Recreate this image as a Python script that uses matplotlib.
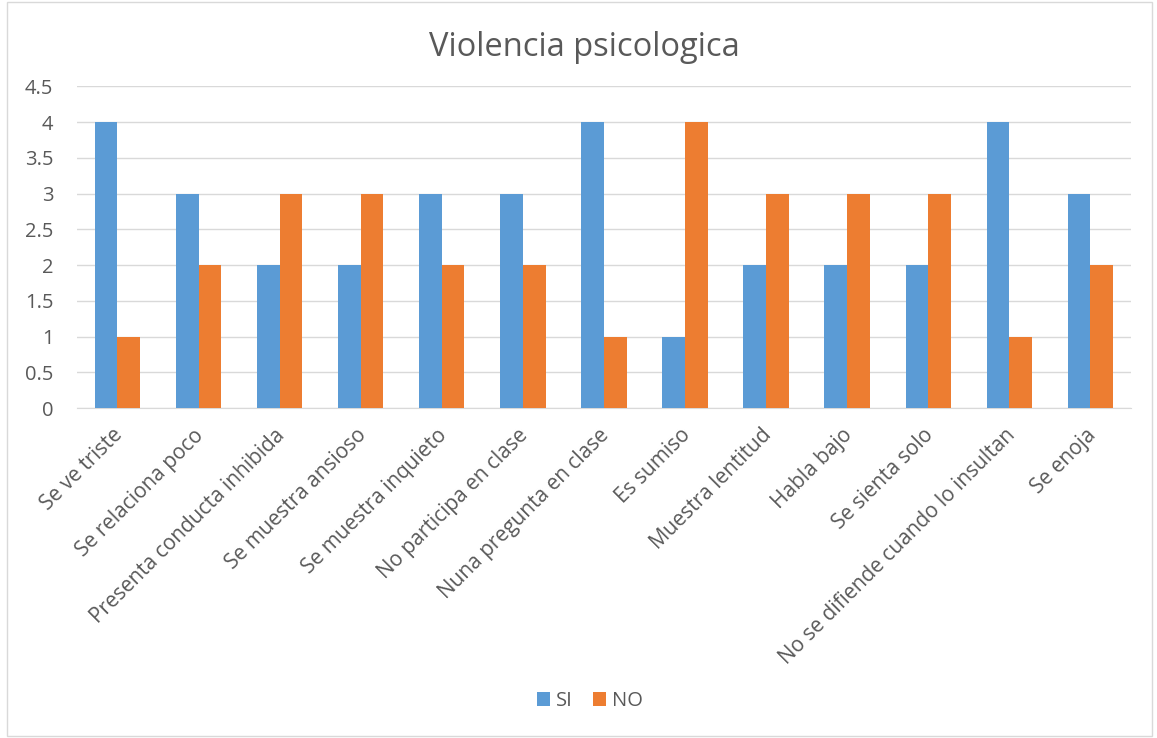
import matplotlib.pyplot as plt
import matplotlib.transforms as mtransforms
import numpy as np
from matplotlib.patches import Rectangle

categories = ["Se ve triste", "Se relaciona poco", "Presenta conducta inhibida",
              "Se muestra ansioso", "Se muestra inquieto", "No participa en clase",
              "Nuna pregunta en clase", "Es sumiso", "Muestra lentitud", "Habla bajo",
              "Se sienta solo", "No se difiende cuando lo insultan", "Se enoja"]
si = [4, 3, 2, 2, 3, 3, 4, 1, 2, 2, 2, 4, 3]
no = [1, 2, 3, 3, 2, 2, 1, 4, 3, 3, 3, 1, 2]

plt.rcParams['font.family'] = ['Open Sans', 'DejaVu Sans']
grey = "#595959"

fig = plt.figure(figsize=(11.57, 7.38), dpi=100)
ax = fig.add_axes([0.0665, 0.447, 0.911, 0.436])

x = np.arange(len(categories))
w = 0.28
ax.bar(x - w/2, si, w, color="#5B9BD5", label="SI", zorder=3)
ax.bar(x + w/2, no, w, color="#ED7D31", label="NO", zorder=3)

ax.set_xlim(-0.5, len(categories) - 0.5)
ax.set_ylim(0, 4.5)
ax.set_yticks(np.arange(0, 4.6, 0.5))
ax.set_yticklabels(["0", "0.5", "1", "1.5", "2", "2.5", "3", "3.5", "4", "4.5"])
ax.yaxis.grid(True, color="#D9D9D9", linewidth=1, zorder=0)
for s in ["top", "right", "left"]:
    ax.spines[s].set_visible(False)
ax.spines["bottom"].set_color("#D9D9D9")
ax.tick_params(axis="y", length=0, labelsize=14.5, colors=grey, pad=17)
ax.tick_params(axis="x", length=0, labelsize=15, colors=grey, pad=12)
ax.set_xticks(x)
ax.set_xticklabels(categories, rotation=45, ha="right", rotation_mode="anchor")
shift = mtransforms.ScaledTranslation(-5 / 100, 0, fig.dpi_scale_trans)
for lbl in ax.get_xticklabels():
    lbl.set_transform(lbl.get_transform() + shift)

fig.text(0.505, 0.935, "Violencia psicologica", ha="center", va="center",
         fontsize=23.5, color=grey)

fig.legend(loc="center", bbox_to_anchor=(0.51, 0.05), ncol=2, frameon=False,
           fontsize=14.5, handlelength=0.65, handleheight=0.65, columnspacing=1.0,
           handletextpad=0.3, labelcolor=grey)

fig.patches.append(Rectangle((0.006, 0.003), 0.99, 0.994, transform=fig.transFigure,
                             fill=False, edgecolor="#D9D9D9", linewidth=1))

fig.savefig("out.png", dpi=100)
